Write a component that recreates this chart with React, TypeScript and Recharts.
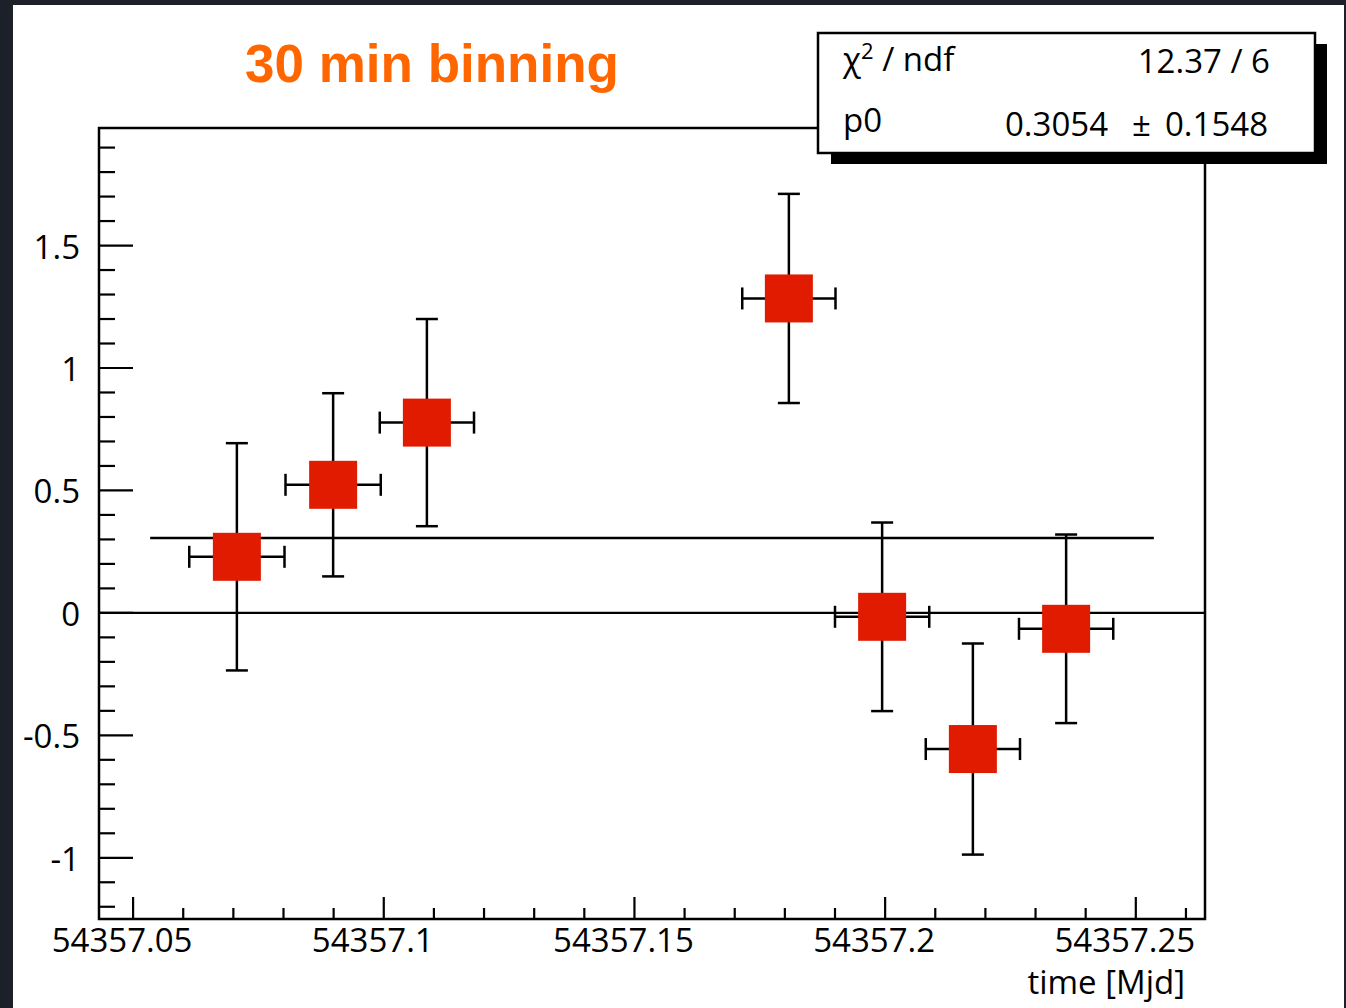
import { ComposedChart, Scatter, ErrorBar, XAxis, YAxis, ReferenceLine, ReferenceArea } from 'recharts'

// light curve, 30 min bins
const times = [54357.0707, 54357.0899, 54357.1086, 54357.1808, 54357.1994, 54357.2175, 54357.2361]
const timeErr = [0.0095, 0.0095, 0.0094, 0.0093, 0.0094, 0.0094, 0.0094]
const flux = [0.229, 0.523, 0.777, 1.284, -0.016, -0.556, -0.065]
const fluxErr = [0.464, 0.374, 0.423, 0.427, 0.385, 0.431, 0.385]

const xTicks = [
  54357.05, 54357.06, 54357.07, 54357.08, 54357.09, 54357.1, 54357.11, 54357.12,
  54357.13, 54357.14, 54357.15, 54357.16, 54357.17, 54357.18, 54357.19, 54357.2,
  54357.21, 54357.22, 54357.23, 54357.24, 54357.25, 54357.26,
]
const xLabels = ['54357.05', '54357.1', '54357.15', '54357.2', '54357.25']
const yTicks = [
  -1.2, -1.1, -1, -0.9, -0.8, -0.7, -0.6, -0.5, -0.4, -0.3, -0.2, -0.1, 0,
  0.1, 0.2, 0.3, 0.4, 0.5, 0.6, 0.7, 0.8, 0.9, 1, 1.1, 1.2, 1.3, 1.4, 1.5,
  1.6, 1.7, 1.8, 1.9,
]
const yLabels = ['-1', '-0.5', '0', '0.5', '1', '1.5']

const xDomain = [54357.0432, 54357.2638]
const yDomain = [-1.25, 1.98]

const fitP0 = 0.3054
const fitErr = 0.1548
const fitFrom = 54357.0534
const fitTo = 54357.2536
const chi2 = '12.37 / 6'

const FONT = '"Open Sans", sans-serif'

const findLabel = (labels: string[], v: number) =>
  labels.find((l) => Math.abs(Number(l) - v) < 1e-6)

function XTick(props: any) {
  const { x, y, payload } = props
  const lbl = findLabel(xLabels, payload.value)
  return (
    <g>
      <line x1={x} y1={y} x2={x} y2={y - (lbl ? 22 : 11)} stroke="#000" strokeWidth={2.2} />
      {lbl && (
        <text x={x - 11} y={y + 33} textAnchor="middle" fontFamily={FONT} fontSize={33} fill="#000">
          {lbl}
        </text>
      )}
    </g>
  )
}

function YTick(props: any) {
  const { x, y, payload } = props
  const lbl = findLabel(yLabels, payload.value)
  return (
    <g>
      <line x1={x} y1={y} x2={x + (lbl ? 34 : 16)} y2={y} stroke="#000" strokeWidth={2.2} />
      {lbl && (
        <text x={x - 19} y={y + 13} textAnchor="end" fontFamily={FONT} fontSize={33} fill="#000">
          {lbl}
        </text>
      )}
    </g>
  )
}

export default function App() {
  const data = times.map((t, i) => ({ t, f: flux[i], ex: timeErr[i], ey: fluxErr[i] }))

  return (
    <div style={{ position: 'fixed', left: 0, top: 0, width: 1346, height: 1008, background: '#1b2029' }}>
      <div style={{ position: 'absolute', left: 13, top: 5, width: 1331, height: 1003, background: '#fff' }} />
      <div style={{ position: 'absolute', left: 0, top: 0 }}>
        <ComposedChart width={1346} height={1008} data={data} margin={{ top: 128, right: 141, bottom: 0, left: 0 }}>
          <XAxis
            type="number"
            dataKey="t"
            domain={xDomain}
            allowDataOverflow
            ticks={xTicks}
            interval={0}
            tickSize={0}
            tickMargin={0}
            axisLine={false}
            tickLine={false}
            height={89}
            tick={<XTick />}
            label={{
              content: (p: any) => (
                <text
                  x={p.viewBox.x + p.viewBox.width - 20}
                  y={p.viewBox.y + 75}
                  textAnchor="end"
                  fontFamily={FONT}
                  fontSize={33}
                  fill="#000"
                >
                  time [Mjd]
                </text>
              ),
            }}
          />
          <YAxis
            type="number"
            domain={yDomain}
            allowDataOverflow
            ticks={yTicks}
            interval={0}
            tickSize={0}
            tickMargin={0}
            axisLine={false}
            tickLine={false}
            width={99}
            tick={<YTick />}
          />
          <ReferenceArea
            x1={xDomain[0]}
            x2={xDomain[1]}
            y1={yDomain[0]}
            y2={yDomain[1]}
            fill="none"
            fillOpacity={0}
            stroke="#000"
            strokeWidth={2.5}
          />
          <ReferenceLine y={0} stroke="#000" strokeWidth={2.2} />
          <Scatter dataKey="f" isAnimationActive={false} shape={() => <g />}>
            <ErrorBar dataKey="ey" direction="y" width={11} stroke="#000" strokeWidth={2.5} />
            <ErrorBar dataKey="ex" direction="x" width={11} stroke="#000" strokeWidth={2.5} />
          </Scatter>
          <Scatter
            dataKey="f"
            isAnimationActive={false}
            shape={(p: any) => <rect x={p.cx - 24} y={p.cy - 24} width={48} height={48} fill="#e01b00" />}
          />
          <ReferenceLine
            segment={[{ x: fitFrom, y: fitP0 }, { x: fitTo, y: fitP0 }]}
            stroke="#000"
            strokeWidth={2.5}
          />
        </ComposedChart>
      </div>
      <svg width={1346} height={1008} style={{ position: 'absolute', left: 0, top: 0, pointerEvents: 'none' }}>
        <text x={432} y={82} textAnchor="middle" fontFamily='"Liberation Sans", Arial, sans-serif' fontWeight="bold" fontSize={53} fill="#ff6600">
          30 min binning
        </text>
        <rect x={831} y={44} width={496} height={120} fill="#000" />
        <rect x={818} y={33} width={497} height={120} fill="#fff" stroke="#000" strokeWidth={2.5} />
        <text x={843} y={71} fontFamily={FONT} fontSize={33} fill="#000">
          χ<tspan dy={-12} fontSize={22}>2</tspan><tspan dy={12}> / ndf</tspan>
        </text>
        <text x={1270} y={73} textAnchor="end" fontFamily={FONT} fontSize={33} fill="#000">{chi2}</text>
        <text x={843} y={132} fontFamily={FONT} fontSize={33} fill="#000">p0</text>
        <text x={1108} y={136} textAnchor="end" fontFamily={FONT} fontSize={33} fill="#000">{fitP0.toFixed(4)}</text>
        <text x={1132} y={136} fontFamily={FONT} fontSize={33} fill="#000">±</text>
        <text x={1268} y={136} textAnchor="end" fontFamily={FONT} fontSize={33} fill="#000">{fitErr.toFixed(4)}</text>
      </svg>
    </div>
  )
}
